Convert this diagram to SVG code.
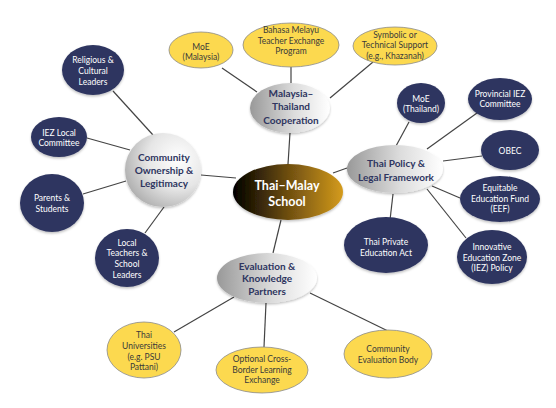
<svg xmlns="http://www.w3.org/2000/svg" width="556" height="408" viewBox="0 0 556 408">
<defs>
<linearGradient id="gGray" x1="0" y1="0" x2="1" y2="0">
<stop offset="0" stop-color="#999999"/>
<stop offset="0.55" stop-color="#dcdcdc"/>
<stop offset="1" stop-color="#ffffff"/>
</linearGradient>
<radialGradient id="gComm" cx="0.7" cy="0.35" r="0.8">
<stop offset="0" stop-color="#ffffff"/>
<stop offset="0.5" stop-color="#e6e6e6"/>
<stop offset="1" stop-color="#a8a8a8"/>
</radialGradient>
<linearGradient id="gCenter" x1="0" y1="0" x2="1" y2="0">
<stop offset="0" stop-color="#000000"/>
<stop offset="0.5" stop-color="#6e4e10"/>
<stop offset="1" stop-color="#d49b1c"/>
</linearGradient>
<filter id="sh" x="-20%" y="-20%" width="140%" height="150%">
<feDropShadow dx="0" dy="1.5" stdDeviation="1.2" flood-color="#000" flood-opacity="0.25"/>
</filter>
</defs>
<style>
.navy{fill:#2e3560;filter:url(#sh)}
.yel{fill:#fcd94f;stroke:#8a8a8a;stroke-width:0.8}
.gray{filter:url(#sh)}
text{font-family:Lato,"Liberation Sans",sans-serif;text-anchor:middle}
.tw{fill:#ffffff;font-size:8.5px}
.ty{fill:#3a3a3a;font-size:8.5px}
.tg{fill:#2e3560;font-size:10px;font-weight:bold}
.tc{fill:#ffffff;font-size:12.5px;font-weight:bold}
#connectors line{stroke:#444;stroke-width:1.2}
</style>
<rect width="556" height="408" fill="#ffffff"/>
<g id="connectors">
<line x1="290" y1="133" x2="288" y2="164"/>
<line x1="201" y1="175" x2="236" y2="178"/>
<line x1="333" y1="173" x2="347" y2="168"/>
<line x1="281" y1="220" x2="273" y2="253"/>
<line x1="222" y1="68" x2="257" y2="92"/>
<line x1="291" y1="67" x2="291" y2="83"/>
<line x1="330" y1="98" x2="373" y2="62"/>
<line x1="113" y1="91" x2="153" y2="135"/>
<line x1="87" y1="138" x2="130" y2="150"/>
<line x1="83" y1="194" x2="126" y2="181"/>
<line x1="145" y1="233" x2="164" y2="207"/>
<line x1="396" y1="146" x2="409" y2="122"/>
<line x1="427" y1="149" x2="477" y2="113"/>
<line x1="443" y1="161" x2="482" y2="156"/>
<line x1="432" y1="186" x2="460" y2="198"/>
<line x1="427" y1="189" x2="466" y2="238"/>
<line x1="393" y1="194" x2="390" y2="220"/>
<line x1="234" y1="297" x2="174" y2="332"/>
<line x1="266" y1="303" x2="264" y2="347"/>
<line x1="310" y1="293" x2="388" y2="331"/>
</g>
<g id="center">
<ellipse cx="288" cy="192" rx="55" ry="28" fill="url(#gCenter)" filter="url(#sh)"/>
<text class="tc" x="287" y="190">Thai–Malay</text>
<text class="tc" x="287" y="206">School</text>
</g>
<g id="malaysia-thailand">
<ellipse class="gray" cx="290" cy="108" rx="40" ry="25" fill="url(#gGray)"/>
<text class="tg" x="291" y="97">Malaysia–</text>
<text class="tg" x="291" y="110">Thailand</text>
<text class="tg" x="291" y="124">Cooperation</text>
</g>
<g id="community">
<ellipse class="gray" cx="163" cy="170" rx="38" ry="37" fill="url(#gComm)"/>
<text class="tg" x="164" y="161">Community</text>
<text class="tg" x="164" y="174">Ownership &amp;</text>
<text class="tg" x="164" y="187">Legitimacy</text>
</g>
<g id="thai-policy">
<ellipse class="gray" cx="395" cy="169" rx="48" ry="24" fill="url(#gGray)"/>
<text class="tg" x="396" y="167">Thai Policy &amp;</text>
<text class="tg" x="396" y="181">Legal Framework</text>
</g>
<g id="evaluation">
<ellipse class="gray" cx="267" cy="278" rx="50" ry="25" fill="url(#gGray)"/>
<text class="tg" x="267" y="270">Evaluation &amp;</text>
<text class="tg" x="267" y="282">Knowledge</text>
<text class="tg" x="267" y="295">Partners</text>
</g>
<g id="moe-malaysia">
<ellipse class="yel" cx="201" cy="50" rx="32" ry="18"/>
<text class="ty" x="201" y="50">MoE</text>
<text class="ty" x="201" y="60">(Malaysia)</text>
</g>
<g id="bahasa">
<ellipse class="yel" cx="291" cy="45" rx="48" ry="22"/>
<text class="ty" x="291" y="33">Bahasa Melayu</text>
<text class="ty" x="291" y="44">Teacher Exchange</text>
<text class="ty" x="291" y="54">Program</text>
</g>
<g id="symbolic">
<ellipse class="yel" cx="395" cy="46" rx="42" ry="19"/>
<text class="ty" x="395" y="38">Symbolic or</text>
<text class="ty" x="395" y="48">Technical Support</text>
<text class="ty" x="395" y="59">(e.g., Khazanah)</text>
</g>
<g id="religious">
<ellipse class="navy" cx="93" cy="70" rx="31" ry="25"/>
<text class="tw" x="93" y="63">Religious &amp;</text>
<text class="tw" x="93" y="74">Cultural</text>
<text class="tw" x="93" y="85">Leaders</text>
</g>
<g id="iez-local">
<ellipse class="navy" cx="59" cy="137" rx="28" ry="20"/>
<text class="tw" x="59" y="136">IEZ Local</text>
<text class="tw" x="59" y="146">Committee</text>
</g>
<g id="parents">
<ellipse class="navy" cx="52" cy="203" rx="32" ry="29"/>
<text class="tw" x="52" y="201">Parents &amp;</text>
<text class="tw" x="52" y="212">Students</text>
</g>
<g id="local-teachers">
<ellipse class="navy" cx="127" cy="258" rx="32" ry="29"/>
<text class="tw" x="127" y="246">Local</text>
<text class="tw" x="127" y="256">Teachers &amp;</text>
<text class="tw" x="127" y="267">School</text>
<text class="tw" x="127" y="278">Leaders</text>
</g>
<g id="moe-thailand">
<ellipse class="navy" cx="421" cy="103" rx="24" ry="20"/>
<text class="tw" x="421" y="102">MoE</text>
<text class="tw" x="421" y="112">(Thailand)</text>
</g>
<g id="provincial">
<ellipse class="navy" cx="500" cy="99" rx="32" ry="21"/>
<text class="tw" x="500" y="97">Provincial IEZ</text>
<text class="tw" x="500" y="107">Committee</text>
</g>
<g id="obec">
<ellipse class="navy" cx="510" cy="150" rx="29" ry="20"/>
<text class="tw" x="510" y="154">OBEC</text>
</g>
<g id="eef">
<ellipse class="navy" cx="500" cy="199" rx="40" ry="23"/>
<text class="tw" x="500" y="191">Equitable</text>
<text class="tw" x="500" y="202">Education Fund</text>
<text class="tw" x="500" y="212">(EEF)</text>
</g>
<g id="iez-policy">
<ellipse class="navy" cx="492" cy="257" rx="35" ry="27"/>
<text class="tw" x="492" y="250">Innovative</text>
<text class="tw" x="492" y="261">Education Zone</text>
<text class="tw" x="492" y="271">(IEZ) Policy</text>
</g>
<g id="private-act">
<ellipse class="navy" cx="386" cy="245" rx="42" ry="28"/>
<text class="tw" x="386" y="245">Thai Private</text>
<text class="tw" x="386" y="256">Education Act</text>
</g>
<g id="thai-universities">
<ellipse class="yel" cx="144" cy="350" rx="37" ry="28"/>
<text class="ty" x="144" y="338">Thai</text>
<text class="ty" x="144" y="349">Universities</text>
<text class="ty" x="144" y="360">(e.g. PSU</text>
<text class="ty" x="144" y="370">Pattani)</text>
</g>
<g id="optional-exchange">
<ellipse class="yel" cx="262" cy="370" rx="46" ry="23"/>
<text class="ty" x="262" y="362">Optional Cross-</text>
<text class="ty" x="262" y="373">Border Learning</text>
<text class="ty" x="262" y="383">Exchange</text>
</g>
<g id="community-eval">
<ellipse class="yel" cx="388" cy="354" rx="44" ry="24"/>
<text class="ty" x="388" y="352">Community</text>
<text class="ty" x="388" y="363">Evaluation Body</text>
</g>
</svg>
